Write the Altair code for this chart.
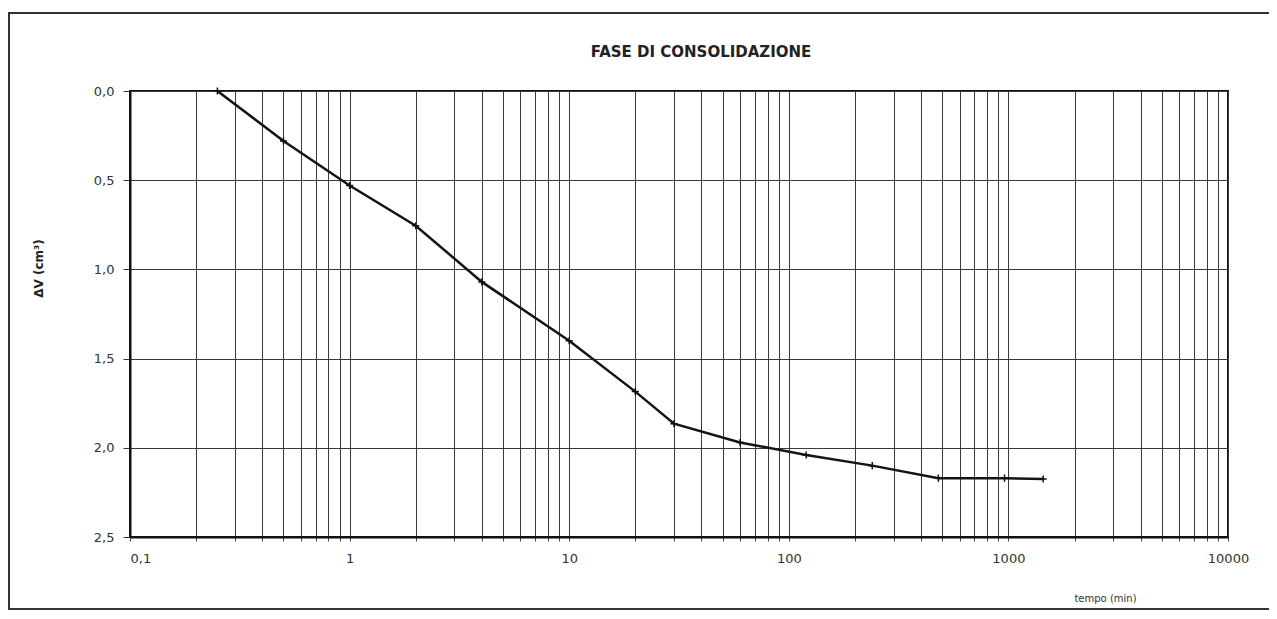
import altair as alt
import pandas as pd

# data
tempo = [0.25, 0.5, 1, 2, 4, 10, 20, 30, 60, 120, 240, 480, 960, 1440]
dV = [0.00, 0.28, 0.53, 0.755, 1.07, 1.40, 1.685, 1.865, 1.97, 2.04, 2.10, 2.17, 2.17, 2.175]

x_label_values = [0.1, 1, 10, 100, 1000, 10000]
x_grid_values = [m * d for d in [0.1, 1, 10, 100, 1000] for m in range(1, 10)] + [10000]
y_values = [0.0, 0.5, 1.0, 1.5, 2.0, 2.5]

title_text = "FASE DI CONSOLIDAZIONE"
y_title = "ΔV (cm³)"
x_title = "tempo (min)"

W, H = 1098, 446
FONT = "DejaVu Sans"

df = pd.DataFrame({"tempo": tempo, "dV": dV})

xscale = alt.Scale(type="log", domain=[0.1, 10000], nice=False)
yscale = alt.Scale(domain=[0, 2.5], reverse=True, nice=False, zero=False)

xaxis = alt.Axis(
    values=x_grid_values,
    labelExpr="indexof(['0.1','1','10','100','1000','10000'], toString(datum.value)) >= 0 ? replace(toString(datum.value), '.', ',') : ''",
    grid=True, gridColor="#3a3a3a", gridWidth=1, gridOpacity=1,
    domainColor="#111", domainWidth=2,
    ticks=True, tickSize=4, tickColor="#444",
    labelPadding=11, labelFontSize=13, labelColor="#333", labelFont=FONT,
    labelAlign={"condition": {"test": "datum.value < 0.5", "value": "left"}, "value": "center"},
    title=x_title, titleFont=FONT, titleFontSize=10, titleFontWeight="normal",
    titleColor="#333", titleX=975, titleY=56, titleAnchor="middle",
    labelFlush=False, labelOverlap=False,
)
yaxis = alt.Axis(
    values=y_values,
    labelExpr="replace(format(datum.value, '.1f'), '.', ',')",
    grid=True, gridColor="#3a3a3a", gridWidth=1, gridOpacity=1,
    domainColor="#111", domainWidth=2,
    ticks=True, tickSize=7, tickColor="#333",
    labelPadding=9, labelFontSize=13, labelColor="#333", labelFont=FONT,
    title=y_title, titleFont=FONT, titleFontSize=12, titleFontWeight="bold",
    titleColor="#222", titleX=-85, titleY=177, titleAngle=-90,
)

base = alt.Chart(df)

line = base.mark_line(color="#141414", strokeWidth=2.5).encode(
    x=alt.X("tempo:Q", scale=xscale, axis=xaxis),
    y=alt.Y("dV:Q", scale=yscale, axis=yaxis),
)
pts = base.mark_point(
    shape="M0,-1L0,1M-1,0L1,0", size=50, filled=False, color="#111", strokeWidth=1.5, opacity=1
).encode(
    x=alt.X("tempo:Q", scale=xscale),
    y=alt.Y("dV:Q", scale=yscale),
)

frame = alt.Chart(pd.DataFrame({"a": [0]})).mark_rect(
    fill=None, stroke="#333", strokeWidth=2
).encode(
    x=alt.value(-121), x2=alt.value(W + 60), y=alt.value(-78), y2=alt.value(518)
)

title = alt.Chart(pd.DataFrame({"t": [title_text]})).mark_text(
    font=FONT, fontSize=15, fontWeight="bold", color="#222", baseline="alphabetic", align="center"
).encode(
    text="t:N", x=alt.value(571), y=alt.value(-34)
)

chart = alt.layer(frame, line, pts, title).properties(
    width=W, height=H,
    autosize=alt.AutoSizeParams(type="none"),
    padding={"left": 122, "top": 83, "right": 41, "bottom": 74},
    background="white",
).configure_view(stroke="#111", strokeWidth=2)

chart.save("out.html", embed_options={"renderer": "svg", "actions": False})
